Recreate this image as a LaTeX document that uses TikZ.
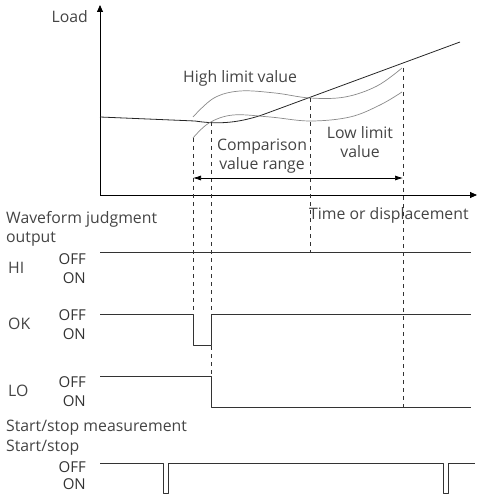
\documentclass[tikz,border=0pt]{standalone}
\usepackage{fontspec}
\setmainfont{Open Sans}
\usetikzlibrary{arrows.meta}
\definecolor{labelgray}{HTML}{444444}
\definecolor{limitgray}{HTML}{8A8A8A}
\definecolor{signalgray}{HTML}{333333}

\begin{document}
\begin{tikzpicture}[
  x=1pt,y=-1pt,
  line join=round,
  axis/.style={draw=black,line width=0.8pt,-{Triangle[length=7pt,width=6pt]}},
  loadcurve/.style={draw=black!85,line width=0.8pt},
  limitcurve/.style={draw=limitgray,line width=0.7pt},
  guide/.style={draw=signalgray,line width=0.6pt,dash pattern=on 4pt off 4pt},
  signal/.style={draw=signalgray,line width=0.8pt},
  rangearrow/.style={draw=black,line width=0.7pt,{Latex[length=8pt,width=5pt]}-{Latex[length=8pt,width=5pt]}},
  lbl/.style={text=labelgray,font=\fontsize{15.8}{18.5}\selectfont,inner sep=0pt},
  state/.style={text=black!80,font=\fontsize{15}{17}\selectfont,inner sep=0pt}
]
  \useasboundingbox (0,0) rectangle (483,494);

  % Axes of the load graph.
  \coordinate (O) at (100,195);
  \draw[axis] (O) -- (100,5);
  \draw[axis] (O) -- (477,195);
  \node[lbl,anchor=east] (load) at (88,17) {Load};
  \node[lbl,anchor=west] (time) at (309,215) {Time or displacement};

  % Measured load and the two limit curves.
  \draw[loadcurve] (100,117) -- (195,121) .. controls (215,124) and (235,124) .. (262,115) -- (460,42);
  \draw[limitcurve] plot[smooth,tension=0.6] coordinates {(193,117) (214,98) (240,91) (275,93) (310,98) (345,97) (377,86) (402,68)};
  \draw[limitcurve] plot[smooth,tension=0.6] coordinates {(193,138) (209,123) (233,115) (270,117) (310,121) (350,117) (380,105) (402,92)};
  \node[lbl,anchor=west] (high) at (183,78) {High limit value};
  \node[lbl,align=center] (comp) at (262,156) {Comparison\\value range};
  \node[lbl,align=center] (low) at (360,142) {Low limit\\value};

  % Vertical guides and the comparison range.
  \coordinate (g1) at (193,138);
  \coordinate (g2) at (211,122);
  \coordinate (g3) at (310,98);
  \coordinate (g4) at (403,68);
  \draw[guide] (g1) -- (193,313);
  \draw[guide] (g2) -- (211,376);
  \draw[guide] (g3) -- (310,252);
  \draw[guide] (g4) -- (403,407);
  \draw[rangearrow] (193,178) -- (403,178);

  % Judgment outputs.
  \node[lbl,anchor=west,align=left] (wave) at (6,229) {Waveform judgment\\output};
  \foreach \name/\yy in {HI/268,OK/324,LO/391} {
    \node[lbl,anchor=west] (\name) at (8,\yy) {\name};
    \node[state,anchor=east] (\name off) at (86,\yy-9) {OFF};
    \node[state,anchor=east] (\name on) at (86,\yy+10) {ON};
  }
  \draw[signal] (100,252) -- (471,252);
  \draw[signal] (100,314) -- (193,314) -- (193,345) -- (211,345) -- (211,314) -- (471,314);
  \draw[signal] (100,376) -- (211,376) -- (211,407) -- (471,407);

  % Start/stop input.
  \node[lbl,anchor=west] (meas) at (6,428) {Start/stop measurement};
  \node[lbl,anchor=west] (ss) at (6,448) {Start/stop};
  \node[state,anchor=east] (ss off) at (86,467) {OFF};
  \node[state,anchor=east] (ss on) at (86,484) {ON};
  \draw[signal] (100,463) -- (163,463) -- (163,493) -- (168,493) -- (168,463)
    -- (443,463) -- (443,493) -- (448,493) -- (448,463) -- (475,463);
\end{tikzpicture}
\end{document}
